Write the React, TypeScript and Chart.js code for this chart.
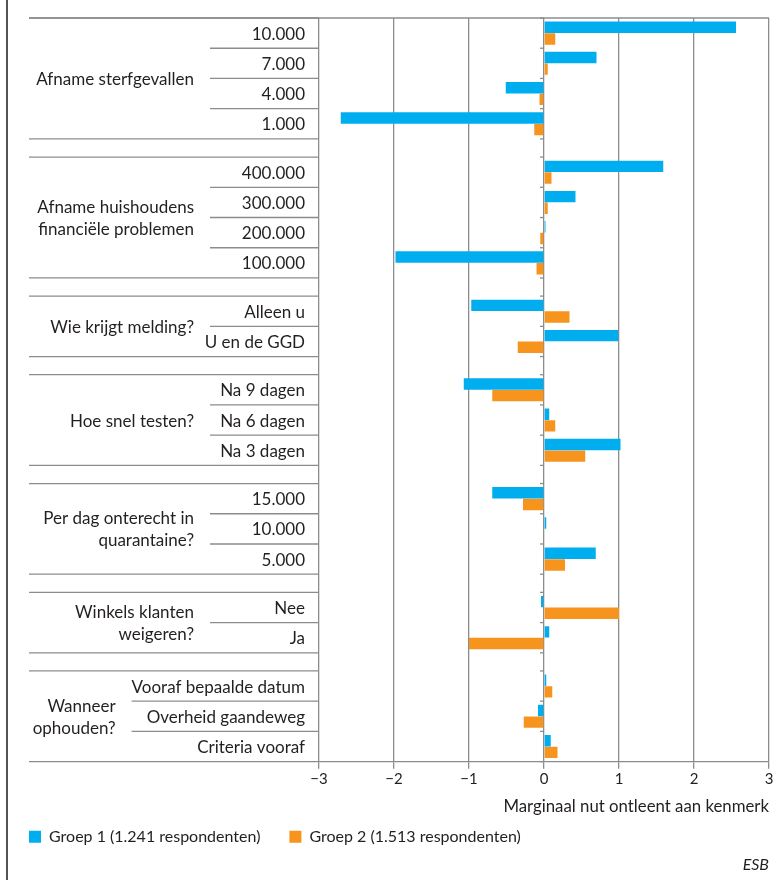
import React from 'react';
import { Chart, registerables } from 'chart.js';

Chart.register(...registerables);

// kenmerken (groepen) en hun niveaus, van boven naar beneden
const groupLabels = [
    ['Afname sterfgevallen'],
    ['Afname huishoudens', 'financiële problemen'],
    ['Wie krijgt melding?'],
    ['Hoe snel testen?'],
    ['Per dag onterecht in', 'quarantaine?'],
    ['Winkels klanten', 'weigeren?'],
    ['Wanneer', 'ophouden?'],
];

const levelLabels = [
    ['10.000', '7.000', '4.000', '1.000'],
    ['400.000', '300.000', '200.000', '100.000'],
    ['Alleen u', 'U en de GGD'],
    ['Na 9 dagen', 'Na 6 dagen', 'Na 3 dagen'],
    ['15.000', '10.000', '5.000'],
    ['Nee', 'Ja'],
    ['Vooraf bepaalde datum', 'Overheid gaandeweg', 'Criteria vooraf'],
];

const groep1 = [
    [2.56, 0.70, -0.51, -2.71],
    [1.59, 0.42, 0.02, -1.98],
    [-0.97, 0.99],
    [-1.07, 0.07, 1.02],
    [-0.69, 0.03, 0.69],
    [-0.04, 0.07],
    [0.03, -0.08, 0.09],
];

const groep2 = [
    [0.15, 0.05, -0.06, -0.13],
    [0.10, 0.05, -0.05, -0.10],
    [0.34, -0.35],
    [-0.69, 0.15, 0.55],
    [-0.28, -0.01, 0.28],
    [1.0, -1.0],
    [0.11, -0.27, 0.18],
];

const seriesNames = ['Groep 1 (1.241 respondenten)', 'Groep 2 (1.513 respondenten)'];
const xTitle = 'Marginaal nut ontleent aan kenmerk';
const source = 'ESB';

const FONT = 'Lato, "Open Sans", sans-serif';
const TEXT = '#231f20';
const LINE = '#8c8c8c';
const BLUE = '#00aeef';
const ORANGE = '#f7941d';
const GAP = 0.6; // lege rij tussen de kenmerken, in rijhoogtes

// positie van elke rij op de y-schaal
type Span = { start: number; end: number };
const spans: Span[] = [];
const rowPos: number[][] = [];
let cursor = 0;
levelLabels.forEach((levels, gi) => {
    if (gi > 0) cursor += GAP;
    const start = cursor;
    rowPos.push(levels.map((_, li) => start + li + 0.5));
    cursor += levels.length;
    spans.push({ start, end: cursor });
});
const totalRows = cursor;

const toPoints = (vals: number[][]) =>
    vals.flatMap((g, gi) => g.map((v, li) => ({ x: v, y: rowPos[gi][li] })));

const tablePlugin = {
    id: 'table',
    afterDraw(chart: any) {
        const { ctx, chartArea, scales } = chart;
        const y = scales.y;
        const x0 = scales.x.getPixelForValue(0);
        const tableLeft = 29;
        const textRight = 305;
        ctx.save();
        ctx.strokeStyle = LINE;
        ctx.lineWidth = 1.3;
        const hline = (a: number, b: number, yy: number) => {
            ctx.beginPath();
            ctx.moveTo(a, yy);
            ctx.lineTo(b, yy);
            ctx.stroke();
        };
        // bovenrand over de hele breedte
        hline(tableLeft, chartArea.right, chartArea.top);

        ctx.font = `17px ${FONT}`;
        ctx.fillStyle = TEXT;
        ctx.textBaseline = 'middle';

        spans.forEach((span, gi) => {
            const yTop = y.getPixelForValue(span.start);
            const yBot = y.getPixelForValue(span.end);
            hline(tableLeft, chartArea.left, yTop);
            hline(tableLeft, chartArea.left, yBot);
            hline(x0 - 4, x0, yTop);
            hline(x0 - 4, x0, yBot);

            const levels = levelLabels[gi];
            const maxW = Math.max(...levels.map((l) => ctx.measureText(l).width));
            const fit = textRight - maxW;
            const levelStart = fit < 190 ? fit : 210;

            ctx.textAlign = 'right';
            levels.forEach((lab, li) => {
                const yc = y.getPixelForValue(rowPos[gi][li]);
                ctx.fillText(lab, textRight, yc + 1);
                if (li > 0) {
                    const yb = y.getPixelForValue(rowPos[gi][li] - 0.5);
                    hline(levelStart, chartArea.left, yb);
                    hline(x0 - 4, x0, yb);
                }
            });

            const lines = groupLabels[gi];
            const mid = (yTop + yBot) / 2;
            const lh = 22;
            lines.forEach((t, i) => {
                ctx.fillText(t, levelStart - 16, mid + (i - (lines.length - 1) / 2) * lh + 1);
            });
        });

        // linker kaderlijn
        ctx.strokeStyle = '#1a1a1a';
        ctx.lineWidth = 1.5;
        ctx.beginPath();
        ctx.moveTo(7, 0);
        ctx.lineTo(7, chart.height);
        ctx.stroke();
        ctx.restore();
    },
};

const App = () => {
    const canvasRef = React.useRef<HTMLCanvasElement>(null);

    React.useEffect(() => {
        if (!canvasRef.current) return;

        const chart = new Chart(canvasRef.current, {
            type: 'bar',
            data: {
                datasets: [
                    {
                        label: seriesNames[0],
                        data: toPoints(groep1),
                        backgroundColor: BLUE,
                        borderWidth: 0,
                    },
                    {
                        label: seriesNames[1],
                        data: toPoints(groep2),
                        backgroundColor: ORANGE,
                        borderWidth: 0,
                    },
                ],
            },
            options: {
                indexAxis: 'y',
                animation: false,
                responsive: true,
                maintainAspectRatio: false,
                events: [],
                categoryPercentage: 0.77,
                barPercentage: 0.98,
                layout: { padding: { top: 18, right: 7, left: 0, bottom: 2 } },
                scales: {
                    x: {
                        type: 'linear',
                        min: -3,
                        max: 3,
                        ticks: {
                            stepSize: 1,
                            color: TEXT,
                            font: { family: FONT, size: 15 },
                            padding: 2,
                            callback: (v: any) => (v < 0 ? '\u2212' + Math.abs(v) : String(v)),
                        },
                        grid: { color: LINE, lineWidth: 1.3, tickLength: 7 },
                        border: { display: true, color: LINE, width: 1.3 },
                        title: {
                            display: true,
                            text: xTitle,
                            align: 'end',
                            color: TEXT,
                            font: { family: FONT, size: 16.8 },
                            padding: { top: 6, bottom: -17 },
                        },
                    },
                    y: {
                        type: 'linear',
                        reverse: true,
                        offset: false,
                        min: 0,
                        max: totalRows,
                        ticks: { display: false, stepSize: 5 },
                        grid: { display: false },
                        border: { display: false },
                        afterFit: (s: any) => {
                            s.width = 319;
                        },
                    },
                },
                plugins: {
                    tooltip: { enabled: false },
                    legend: {
                        position: 'bottom',
                        align: 'start',
                        labels: {
                            boxWidth: 12,
                            boxHeight: 12,
                            padding: 29,
                            color: TEXT,
                            font: { family: FONT, size: 16 },
                        },
                    },
                    title: {
                        display: true,
                        text: source,
                        position: 'bottom',
                        align: 'end',
                        color: TEXT,
                        font: { family: FONT, size: 16, style: 'italic', weight: 'normal' },
                        padding: { top: 0, bottom: 4 },
                    },
                },
            },
            plugins: [tablePlugin],
        });

        return () => {
            chart.clear();
            chart.destroy();
        };
    }, []);

    return (
        <div style={{ position: 'absolute', left: 0, top: 0, width: 776, height: 880 }}>
            <canvas ref={canvasRef}></canvas>
        </div>
    );
};

export default App;
